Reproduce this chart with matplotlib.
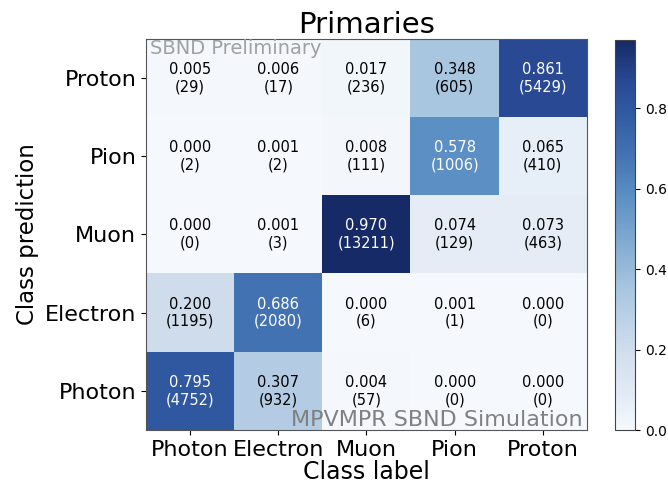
import numpy as np
import matplotlib
matplotlib.use("Agg")
from matplotlib import pyplot as plt
from matplotlib.colors import LinearSegmentedColormap

# ----------------------------------Data--------------------------------------#
classes = ["Photon", "Electron", "Muon", "Pion", "Proton"]

# rows = class prediction (Photon..Proton), cols = class label
fractions = np.array([
    [0.795, 0.307, 0.004, 0.000, 0.000],   # Photon
    [0.200, 0.686, 0.000, 0.001, 0.000],   # Electron
    [0.000, 0.001, 0.970, 0.074, 0.073],   # Muon
    [0.000, 0.001, 0.008, 0.578, 0.065],   # Pion
    [0.005, 0.006, 0.017, 0.348, 0.861],   # Proton
])
counts = np.array([
    [4752, 932, 57, 0, 0],
    [1195, 2080, 6, 1, 0],
    [0, 3, 13211, 129, 463],
    [2, 2, 111, 1006, 410],
    [29, 17, 236, 605, 5429],
])
# ----------------------------------------------------------------------------#

# colour scale
cmap = LinearSegmentedColormap.from_list("sbnd_blues", [
    (0.00, "#f5f9fd"),
    (0.08, "#e4ecf6"),
    (0.21, "#cfdcec"),
    (0.36, "#a8c6e0"),
    (0.60, "#5b8fc3"),
    (0.71, "#4372b3"),
    (0.82, "#2f58a0"),
    (0.89, "#2a4a95"),
    (1.00, "#162a68"),
])

fig = plt.figure(figsize=(6.68, 4.87), dpi=100)
ax = fig.add_axes([0.2186, 0.117, 0.660, 0.803])
cax = fig.add_axes([0.9207, 0.117, 0.030, 0.801])

im = ax.imshow(fractions, cmap=cmap, origin="lower", aspect="auto",
               vmin=0, vmax=fractions.max())
cb = fig.colorbar(im, cax=cax)
cb.set_ticks([0.0, 0.2, 0.4, 0.6, 0.8])
cb.ax.tick_params(labelsize=10)
cb.outline.set_edgecolor("#444444")

thresh = fractions.max() / 2.0
for i in range(len(classes)):
    for j in range(len(classes)):
        col = "white" if fractions[i, j] > thresh else "black"
        ax.text(j, i, "%.3f\n(%d)" % (fractions[i, j], counts[i, j]),
                ha="center", va="center", color=col, fontsize=10.5,
                linespacing=1.2)

ax.set_xticks(range(len(classes)))
ax.set_xticklabels(classes, fontsize=16)
ax.set_yticks(range(len(classes)))
ax.set_yticklabels(classes, fontsize=16)
ax.set_xlabel("Class label", fontsize=17, labelpad=0)
ax.set_ylabel("Class prediction", fontsize=16.5)
ax.set_title("Primaries", fontsize=21, pad=3)
for s in ax.spines.values():
    s.set_edgecolor("#555555")

ax.text(0.01, 1.0, "SBND Preliminary", transform=ax.transAxes,
        ha="left", va="top", fontsize=14, color="#a0a0a0")
ax.text(0.99, 0.0, "MPVMPR SBND Simulation", transform=ax.transAxes,
        ha="right", va="bottom", fontsize=16, color="#808080")

fig.savefig("out.png", dpi=100)
